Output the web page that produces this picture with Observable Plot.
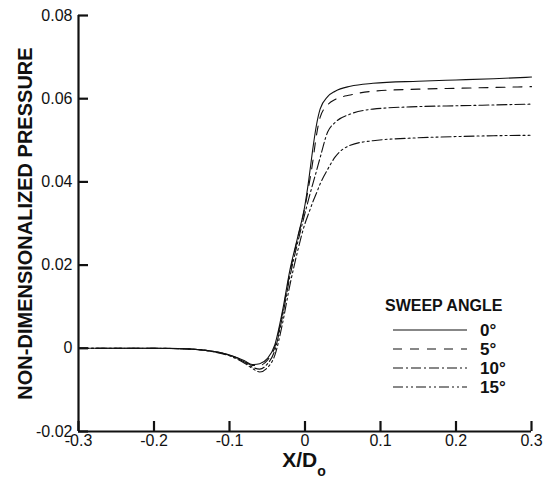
<!DOCTYPE html>
<html>
<head>
<meta charset="utf-8">
<script src="https://cdn.jsdelivr.net/npm/d3@7"></script>
<script src="https://cdn.jsdelivr.net/npm/@observablehq/plot@0.6"></script>
<style>
  html, body { margin: 0; padding: 0; background: #fff; }
  #chart { position: relative; width: 550px; height: 479px; }
  svg { font-family: "Liberation Sans", Arial, sans-serif; }
</style>
</head>
<body>
<div id="chart"></div>
<script>
// ---- data ----
const xPos = [-0.3, -0.25, -0.2, -0.15, -0.12, -0.1, -0.08, -0.07, -0.06, -0.05, -0.04, -0.03, -0.02, -0.01, 0, 0.005, 0.01, 0.015, 0.02, 0.03, 0.04, 0.06, 0.09, 0.15, 0.2, 0.25, 0.3];
const p0  = [0, 0, 0, -0.0002, -0.0008, -0.0016, -0.0030, -0.0039, -0.0037, -0.0025, 0.0008, 0.0088, 0.0188, 0.0265, 0.0345, 0.0405, 0.0475, 0.0535, 0.0575, 0.0605, 0.0618, 0.0630, 0.0637, 0.0642, 0.0645, 0.0648, 0.0652];
const p5  = [0, 0, 0, -0.0002, -0.0008, -0.0016, -0.0031, -0.0041, -0.0041, -0.0029, 0.0003, 0.0082, 0.0182, 0.0262, 0.0340, 0.0390, 0.0445, 0.0510, 0.0555, 0.0585, 0.0598, 0.0609, 0.0618, 0.0623, 0.0625, 0.0627, 0.0629];
const p10 = [0, 0, 0, -0.0002, -0.0008, -0.0017, -0.0033, -0.0045, -0.0050, -0.0038, -0.0005, 0.0075, 0.0172, 0.0252, 0.0325, 0.0360, 0.0393, 0.0425, 0.0458, 0.0520, 0.0543, 0.0563, 0.0575, 0.0581, 0.0583, 0.0585, 0.0587];
const p15 = [0, 0, 0, -0.0002, -0.0009, -0.0018, -0.0036, -0.0048, -0.0057, -0.0047, -0.0017, 0.0058, 0.0152, 0.0232, 0.0300, 0.0325, 0.0350, 0.0372, 0.0395, 0.0430, 0.0460, 0.0488, 0.0499, 0.0506, 0.0509, 0.0511, 0.0512];
const sweepLabels = ["0°", "5°", "10°", "15°"];
const sweepDash = [null, "9,8", "10,3,2,3", "10,3,2,3,2,3"];
const xTicks = [-0.3, -0.2, -0.1, 0, 0.1, 0.2, 0.3];
const yTicks = [-0.02, 0, 0.02, 0.04, 0.06, 0.08];
const yLabel = "NON-DIMENSIONALIZED PRESSURE";
const legendTitle = "SWEEP ANGLE";

const seriesY = [p0, p5, p10, p15];
const rows = [];
seriesY.forEach((ys, i) => ys.forEach((v, j) => rows.push({x: xPos[j], y: v, s: sweepLabels[i]})));

const W = 550, H = 479, mL = 78, mR = 19, mT = 15, mB = 48;
const plotW = W - mL - mR, plotH = H - mT - mB;
const fmt = d => d === 0 ? "0" : String(d);

const lineMarks = sweepLabels.map((s, i) =>
  Plot.line(rows.filter(r => r.s === s), {
    x: "x", y: "y", curve: "monotone-x",
    stroke: "#111", strokeWidth: 1.1,
    strokeDasharray: sweepDash[i] || undefined
  })
);

const chart = Plot.plot({
  width: W, height: H,
  marginLeft: mL, marginRight: mR, marginTop: mT, marginBottom: mB,
  x: {domain: [-0.3, 0.3]},
  y: {domain: [-0.02, 0.08]},
  style: {fontFamily: "Liberation Sans, Arial, sans-serif", background: "#fff", color: "#111"},
  marks: [
    ...lineMarks,
    Plot.ruleX([-0.3], {stroke: "#111", strokeWidth: 2.2}),
    Plot.ruleY([-0.02], {stroke: "#111", strokeWidth: 2.2}),
    Plot.tickX(xTicks, {x: d => d, insetTop: plotH - 10, stroke: "#111", strokeWidth: 2.2}),
    Plot.tickY(yTicks, {y: d => d, insetRight: plotW - 10, stroke: "#111", strokeWidth: 2.2}),
    Plot.axisX(xTicks, {tickSize: 0, tickPadding: 3, tickFormat: fmt, fontSize: 16, label: null}),
    Plot.axisY(yTicks, {tickSize: 0, tickPadding: 6, tickFormat: fmt, fontSize: 16, label: null}),
    Plot.text([yLabel], {frameAnchor: "left", textAnchor: "middle", rotate: -90, dx: -53, fontSize: 20, fontWeight: "bold", fill: "#111"})
  ]
});

document.getElementById("chart").appendChild(chart);

const svg = d3.select(chart);
// x-axis title with subscript
const xt = svg.append("text")
  .attr("x", 304).attr("y", 467)
  .attr("text-anchor", "middle")
  .attr("font-weight", "bold").attr("font-size", 21).attr("fill", "#111");
xt.append("tspan").text("X/D");
xt.append("tspan").attr("dy", 9).attr("font-size", 14).text("o");

// legend
const lg = svg.append("g").attr("font-weight", "bold").attr("fill", "#111").attr("text-anchor", "start");
lg.append("text").attr("x", 385).attr("y", 311).attr("font-size", 16).text(legendTitle);
sweepLabels.forEach((s, i) => {
  const y = 330 + i * 19;
  lg.append("line").attr("x1", 393).attr("x2", 467).attr("y1", y).attr("y2", y)
    .attr("stroke", "#111").attr("stroke-width", 1.1)
    .attr("stroke-dasharray", sweepDash[i]);
  lg.append("text").attr("x", 480).attr("y", y + 6).attr("font-size", 17).text(s);
});
</script>
</body>
</html>
